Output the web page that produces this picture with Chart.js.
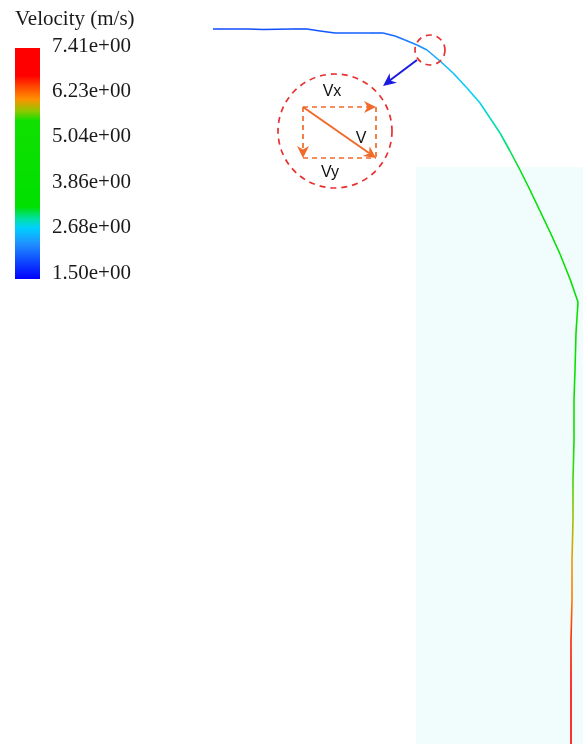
<!DOCTYPE html>
<html>
<head>
<meta charset="utf-8">
<script src="https://cdn.jsdelivr.net/npm/chart.js@4/dist/chart.umd.min.js"></script>
<style>
  html, body { margin: 0; padding: 0; background: #ffffff; }
  #wrap { width: 583px; height: 744px; }
</style>
</head>
<body>
<div id="wrap"><canvas id="c" width="583" height="744"></canvas></div>
<script>
// Particle path: horizontal position, vertical position (downwards) and speed at each sample
const posX  = [213, 248, 263, 293, 307, 320, 335, 370, 383, 395, 405, 417, 427, 440, 453, 467, 480, 490, 500, 510, 520, 530, 540, 550, 560, 570, 578, 576, 575, 574, 574, 573, 573, 572, 572, 571, 571, 571];
const posY  = [29, 29, 29.5, 29, 29, 31, 33, 33, 33, 36, 40, 45, 50, 61, 73, 88, 103, 118, 133, 151, 170, 190, 211, 232, 254, 279, 302, 333, 370, 400, 440, 480, 520, 560, 600, 640, 690, 744];
const speed = [1.95, 1.97, 1.98, 2.0, 2.02, 2.04, 2.06, 2.1, 2.13, 2.18, 2.25, 2.35, 2.45, 2.6, 2.7, 2.78, 2.86, 2.95, 3.05, 3.18, 3.32, 3.5, 3.68, 3.85, 4.0, 4.15, 4.25, 4.45, 4.75, 5.0, 5.4, 5.65, 5.85, 6.05, 6.2, 6.55, 7.0, 7.4];

// Colour bar
const barTitle = 'Velocity (m/s)';
const barMin = 1.50, barMax = 7.41;
const barTicks = ['7.41e+00', '6.23e+00', '5.04e+00', '3.86e+00', '2.68e+00', '1.50e+00'];

// Speed → colour stops of the rainbow map
const mapValues = [1.50, 2.00, 2.40, 2.80, 3.05, 3.35, 5.55, 5.80, 6.10, 6.45, 6.70, 7.41];
const mapColors = ['#0000ff', '#1050ff', '#2090ff', '#00d0ff', '#00e0a0', '#00e000', '#10e000', '#90c800', '#ff9000', '#ff4000', '#ff0000', '#ff0000'];

// Inset sketch of the velocity decomposition (same units as the path)
const insetCircle = { x: 335, y: 131, r: 57 };
const spotCircle  = { x: 430, y: 50, r: 15 };
const pointer     = { x0: 417, y0: 60, x1: 383, y1: 86 };
const vecBox      = { x0: 303, y0: 107, x1: 376, y1: 158 };
const vecLabels   = [{ t: 'Vx', x: 332, y: 92 }, { t: 'V', x: 361, y: 139 }, { t: 'Vy', x: 330, y: 173 }];
// Shaded column behind the lower path
const column      = { x0: 416, y0: 167, x1: 583, y1: 744 };

function hexToRgb(h) {
  const n = parseInt(h.slice(1), 16);
  return [(n >> 16) & 255, (n >> 8) & 255, n & 255];
}
function colorFor(v) {
  if (v <= mapValues[0]) return mapColors[0];
  for (let i = 1; i < mapValues.length; i++) {
    if (v <= mapValues[i]) {
      const t = (v - mapValues[i - 1]) / (mapValues[i] - mapValues[i - 1]);
      const a = hexToRgb(mapColors[i - 1]), b = hexToRgb(mapColors[i]);
      const c = a.map((av, k) => Math.round(av + (b[k] - av) * t));
      return `rgb(${c[0]},${c[1]},${c[2]})`;
    }
  }
  return mapColors[mapColors.length - 1];
}

const points = posX.map((x, i) => ({ x, y: posY[i] }));

function arrowHead(ctx, x0, y0, x1, y1, len, half, color) {
  const a = Math.atan2(y1 - y0, x1 - x0);
  ctx.save();
  ctx.fillStyle = color;
  ctx.beginPath();
  ctx.moveTo(x1, y1);
  ctx.lineTo(x1 - len * Math.cos(a) + half * Math.sin(a), y1 - len * Math.sin(a) - half * Math.cos(a));
  ctx.lineTo(x1 - len * Math.cos(a) * 0.7, y1 - len * Math.sin(a) * 0.7);
  ctx.lineTo(x1 - len * Math.cos(a) - half * Math.sin(a), y1 - len * Math.sin(a) + half * Math.cos(a));
  ctx.closePath();
  ctx.fill();
  ctx.restore();
}

const backdrop = {
  id: 'backdrop',
  beforeDatasetsDraw(chart) {
    const { ctx, scales: { x, y } } = chart;
    ctx.save();
    ctx.fillStyle = 'rgb(241,252,252)';
    const px0 = x.getPixelForValue(column.x0), py0 = y.getPixelForValue(column.y0);
    const px1 = x.getPixelForValue(column.x1), py1 = y.getPixelForValue(column.y1);
    ctx.fillRect(px0, py0, px1 - px0, py1 - py0);
    ctx.restore();
  }
};

const overlay = {
  id: 'overlay',
  afterDatasetsDraw(chart) {
    const { ctx, scales: { x, y } } = chart;
    const X = v => x.getPixelForValue(v), Y = v => y.getPixelForValue(v);
    ctx.save();

    // colour bar
    const bx = 15, bw = 25, bTop = 48, bBot = 279;
    const g = ctx.createLinearGradient(0, bBot, 0, bTop);
    mapValues.forEach((v, i) => g.addColorStop((v - barMin) / (barMax - barMin), mapColors[i]));
    ctx.fillStyle = g;
    ctx.fillRect(bx, bTop, bw, bBot - bTop);
    ctx.fillStyle = '#1a1a1a';
    ctx.font = '21px "Liberation Serif", "Times New Roman", serif';
    ctx.textBaseline = 'middle';
    ctx.textAlign = 'left';
    ctx.fillText(barTitle, 15, 19);
    barTicks.forEach((t, i) => {
      ctx.fillText(t, 52, 46 + i * (272 - 45) / (barTicks.length - 1));
    });

    // dashed circles
    ctx.strokeStyle = '#e83030';
    ctx.lineWidth = 1.7;
    ctx.setLineDash([6, 5]);
    ctx.beginPath();
    ctx.arc(X(insetCircle.x), Y(insetCircle.y), insetCircle.r, 0, Math.PI * 2);
    ctx.stroke();
    ctx.beginPath();
    ctx.arc(X(spotCircle.x), Y(spotCircle.y), spotCircle.r, 0, Math.PI * 2);
    ctx.stroke();

    // pointer arrow
    ctx.setLineDash([]);
    ctx.strokeStyle = '#1a1ae0';
    ctx.lineWidth = 2;
    ctx.beginPath();
    ctx.moveTo(X(pointer.x0), Y(pointer.y0));
    ctx.lineTo(X(pointer.x1) + 6, Y(pointer.y1) - 5);
    ctx.stroke();
    arrowHead(ctx, X(pointer.x0), Y(pointer.y0), X(pointer.x1), Y(pointer.y1), 13, 6, '#1a1ae0');

    // vector decomposition
    const orange = '#f06a2a';
    const x0 = X(vecBox.x0), y0 = Y(vecBox.y0), x1 = X(vecBox.x1), y1 = Y(vecBox.y1);
    ctx.strokeStyle = orange;
    ctx.lineWidth = 1.7;
    ctx.setLineDash([5, 4]);
    ctx.beginPath();
    ctx.moveTo(x0, y0); ctx.lineTo(x1 - 8, y0);
    ctx.moveTo(x0, y0); ctx.lineTo(x0, y1 - 8);
    ctx.moveTo(x0, y1); ctx.lineTo(x1, y1);
    ctx.moveTo(x1, y0); ctx.lineTo(x1, y1);
    ctx.stroke();
    ctx.setLineDash([]);
    ctx.lineWidth = 2;
    ctx.beginPath();
    ctx.moveTo(x0, y0); ctx.lineTo(x1 - 7, y1 - 5);
    ctx.stroke();
    arrowHead(ctx, x0, y0, x1, y0, 12, 6, orange);
    arrowHead(ctx, x0, y0, x0, y1, 12, 6, orange);
    arrowHead(ctx, x0, y0, x1, y1, 12, 6, orange);

    ctx.fillStyle = '#111';
    ctx.font = '16px "Liberation Sans", Arial, sans-serif';
    ctx.textAlign = 'center';
    vecLabels.forEach(l => ctx.fillText(l.t, X(l.x), Y(l.y)));
    ctx.restore();
  }
};

new Chart(document.getElementById('c'), {
  type: 'scatter',
  data: {
    datasets: [{
      data: points,
      showLine: true,
      borderWidth: 1.6,
      pointRadius: 0,
      tension: 0,
      segment: {
        borderColor: ctx => {
          const c = ctx.chart.ctx;
          const g = c.createLinearGradient(ctx.p0.x, ctx.p0.y, ctx.p1.x, ctx.p1.y);
          g.addColorStop(0, colorFor(speed[ctx.p0DataIndex]));
          g.addColorStop(1, colorFor(speed[ctx.p1DataIndex]));
          return g;
        }
      }
    }]
  },
  options: {
    responsive: false,
    animation: false,
    layout: { padding: 0 },
    plugins: { legend: { display: false }, tooltip: { enabled: false } },
    scales: {
      x: { type: 'linear', min: 0, max: 583, display: false },
      y: { type: 'linear', min: 0, max: 744, reverse: true, display: false }
    }
  },
  plugins: [backdrop, overlay]
});
</script>
</body>
</html>
